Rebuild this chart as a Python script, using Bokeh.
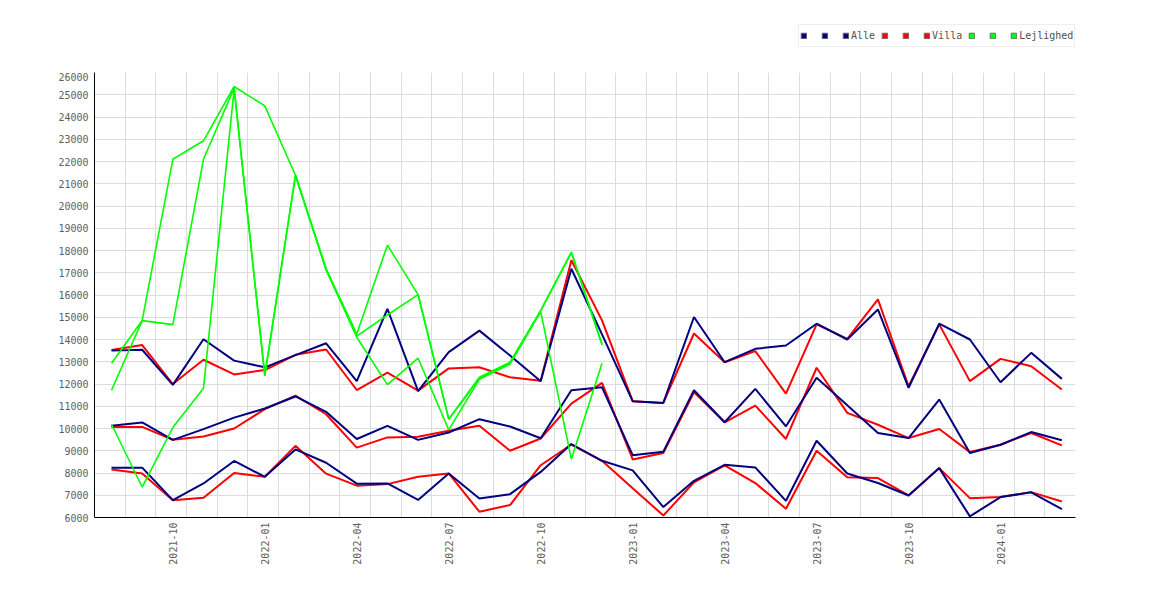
import math
import numpy as np
from bokeh.plotting import figure
from bokeh.layouts import column
from bokeh.models import Range1d, FixedTicker, Legend, LegendItem
from bokeh.core.properties import value
from bokeh.embed import file_html
from bokeh.resources import INLINE

months = ["2021-08", "2021-09", "2021-10", "2021-11", "2021-12", "2022-01", "2022-02", "2022-03",
          "2022-04", "2022-05", "2022-06", "2022-07", "2022-08", "2022-09", "2022-10", "2022-11",
          "2022-12", "2023-01", "2023-02", "2023-03", "2023-04", "2023-05", "2023-06", "2023-07",
          "2023-08", "2023-09", "2023-10", "2023-11", "2023-12", "2024-01", "2024-02", "2024-03"]
tick_months = ["2021-10", "2022-01", "2022-04", "2022-07", "2022-10", "2023-01",
               "2023-04", "2023-07", "2023-10", "2024-01"]

alle_high = [13500, 13540, 11960, 14010, 13050, 12750, 13300, 13830, 12130, 15380, 11680, 13430,
             14400, 13280, 12120, 17180, 14230, 11230, 11150, 15010, 12980, 13580, 13730, 14710,
             14000, 15350, 11830, 14710, 14000, 12080, 13400, 12230]
alle_mid = [10120, 10270, 9490, 9970, 10490, 10900, 11440, 10750, 9530, 10120, 9490, 9820,
            10420, 10090, 9560, 11720, 11850, 8800, 8960, 11720, 10280, 11780, 10100, 12280,
            11040, 9800, 9570, 11300, 8900, 9270, 9840, 9470]
alle_low = [8240, 8240, 6780, 7530, 8540, 7830, 9060, 8460, 7520, 7530, 6790, 7980,
            6850, 7050, 8050, 9300, 8550, 8120, 6470, 7650, 8370, 8250, 6750, 9450,
            7980, 7550, 6990, 8220, 6050, 6920, 7130, 6380]

villa_high = [13530, 13750, 12000, 13090, 12430, 12630, 13310, 13550, 11730, 12510, 11700, 12700,
              12750, 12300, 12150, 17560, 14860, 11230, 11150, 14270, 12980, 13480, 11570, 14680,
              14030, 15800, 11900, 14680, 12130, 13130, 12800, 11750]
villa_mid = [10070, 10070, 9490, 9640, 10000, 10870, 11480, 10640, 9140, 9600, 9630, 9900,
             10120, 9000, 9550, 11120, 12050, 8610, 8900, 11630, 10280, 11030, 9530, 12730,
             10700, 10170, 9570, 9980, 8940, 9270, 9800, 9240]
villa_low = [8160, 7980, 6780, 6890, 8000, 7830, 9220, 7970, 7430, 7500, 7830, 7980,
             6260, 6560, 8350, 9280, 8550, 7320, 6090, 7580, 8340, 7550, 6390, 9000,
             7810, 7770, 6990, 8220, 6870, 6920, 7140, 6720]

lejl_a = [12930, 14850, 22100, 22930, 25370, 24500, 21380, 17170, 14250, 18240, 16020, 10420,
          12300, 12980, 15300, 17930, 13800]
lejl_b = [11720, 14850, 14670, 22100, 25300, 12380, 21380, 17120, 14150, 15100, 16020, 10420,
          12250, 12950, 15300, 17900, 13750]
lejl_c = [10190, 7370, 10040, 11810, 25250, 12380, 21380, 17170, 14100, 11970, 13160, 9940,
          12210, 12900, 15250, 8620, 12930]

series_names = ["Alle", "Villa", "Lejlighed"]
colors = ["#000080", "#ff0000", "#00ff00"]

FONT = "DejaVu Sans Mono"
x_all = list(range(len(months)))

W = 1165
TOP = 72          # height of the legend strip (= top of plot frame)
H = 595 - TOP

# ---------- main chart ----------
p = figure(width=W, height=H, output_backend="svg", toolbar_location=None,
           x_range=Range1d(-0.555, 31.445), y_range=Range1d(6000, 26000),
           min_border_left=94, min_border_top=0, min_border_right=W - 1075,
           min_border_bottom=H - (517 - TOP))
p.outline_line_color = None
p.background_fill_color = "white"
p.border_fill_color = "white"

p.xgrid.ticker = FixedTicker(ticks=[k - 0.555 for k in range(33)])
p.ygrid.ticker = FixedTicker(ticks=list(range(6000, 26001, 1000)))
for g in (p.xgrid, p.ygrid):
    g.grid_line_color = "#dcdcdc"
    g.grid_line_width = 1

p.yaxis.ticker = FixedTicker(ticks=list(range(6000, 26001, 1000)))
tick_idx = [months.index(m) for m in tick_months]
p.xaxis.ticker = FixedTicker(ticks=tick_idx)
p.xaxis.major_label_overrides = {i: months[i] for i in tick_idx}
p.xaxis.major_label_orientation = math.pi / 2
for ax in (p.xaxis, p.yaxis):
    ax.axis_line_color = "black"
    ax.axis_line_width = 1
    ax.major_tick_line_color = None
    ax.minor_tick_line_color = None
    ax.major_tick_out = 0
    ax.major_tick_in = 0
    ax.major_label_text_font = FONT
    ax.major_label_text_font_size = "10px"
    ax.major_label_text_color = "#606060"
p.yaxis.major_label_standoff = 6
p.xaxis.major_label_standoff = 5

x_l = x_all[:len(lejl_a)]
for ys in (villa_high, villa_mid, villa_low):
    p.line(x_all, ys, line_color=colors[1], line_width=2)
for ys in (alle_high, alle_mid, alle_low):
    p.line(x_all, ys, line_color=colors[0], line_width=2)
for ys in (lejl_a, lejl_b, lejl_c):
    p.line(x_l, ys, line_color=colors[2], line_width=1.6)

# ---------- legend strip ----------
lg = figure(width=W, height=TOP, output_backend="svg", toolbar_location=None,
            x_axis_location=None, y_axis_location=None, min_border=0,
            x_range=Range1d(0, 1), y_range=Range1d(0, 1))
lg.outline_line_color = None
lg.xgrid.visible = False
lg.ygrid.visible = False
lg.background_fill_color = "white"
lg.border_fill_color = "white"

items = []
nan = np.array([np.nan])
for name, c in zip(series_names, colors):
    # legend proxy (NaN point: not drawn in the plot)
    r = lg.rect(x=nan, y=nan, width=1, height=1, fill_color=c, line_color="#707070")
    items.append(LegendItem(label=value(" "), renderers=[r]))
    items.append(LegendItem(label=value(" "), renderers=[r]))
    items.append(LegendItem(label=value(name), renderers=[r]))

legend = Legend(items=items, orientation="horizontal", location=(704, 25),
                glyph_width=7, glyph_height=7, label_standoff=2, spacing=6,
                padding=1, margin=0, border_line_color="#dddddd",
                background_fill_color="white", background_fill_alpha=1.0,
                label_text_font=FONT, label_text_font_size="10px",
                label_text_color="#505050", label_height=19, label_width=6)
lg.add_layout(legend, "center")

layout = column(lg, p, spacing=0)
open("out.html", "w").write(file_html(layout, INLINE))
